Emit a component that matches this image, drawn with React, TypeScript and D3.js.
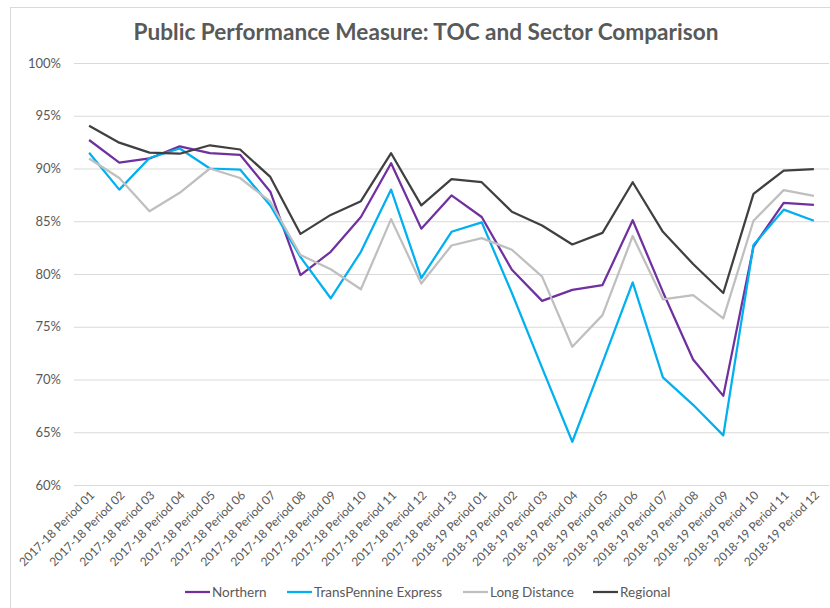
import React, { useEffect, useRef } from 'react';
import * as d3 from 'd3';

const periods = [
  '2017-18 Period 01', '2017-18 Period 02', '2017-18 Period 03', '2017-18 Period 04',
  '2017-18 Period 05', '2017-18 Period 06', '2017-18 Period 07', '2017-18 Period 08',
  '2017-18 Period 09', '2017-18 Period 10', '2017-18 Period 11', '2017-18 Period 12',
  '2017-18 Period 13', '2018-19 Period 01', '2018-19 Period 02', '2018-19 Period 03',
  '2018-19 Period 04', '2018-19 Period 05', '2018-19 Period 06', '2018-19 Period 07',
  '2018-19 Period 08', '2018-19 Period 09', '2018-19 Period 10', '2018-19 Period 11',
  '2018-19 Period 12',
];

const northern = [
  92.7, 90.55, 90.95, 92.1, 91.45, 91.3, 87.8, 79.9, 82.1, 85.4, 90.5, 84.3, 87.45,
  85.4, 80.4, 77.45, 78.5, 78.95, 85.1, 78.3, 71.9, 68.45, 82.6, 86.75, 86.55,
];
const transPennine = [
  91.5, 88.0, 91.0, 91.9, 90.0, 89.9, 86.5, 81.6, 77.7, 82.1, 88.0, 79.6, 84.0,
  84.9, 78.2, 71.1, 64.1, 71.6, 79.2, 70.2, 67.6, 64.7, 82.75, 86.1, 85.05,
];
const longDistance = [
  90.95, 89.1, 85.95, 87.7, 90.0, 89.1, 86.85, 81.8, 80.45, 78.55, 85.2, 79.1, 82.7,
  83.4, 82.3, 79.75, 73.1, 76.1, 83.6, 77.6, 78.0, 75.8, 85.05, 87.95, 87.4,
];
const regional = [
  94.06, 92.45, 91.5, 91.4, 92.2, 91.8, 89.2, 83.8, 85.6, 86.9, 91.45, 86.5, 89.0,
  88.7, 85.9, 84.6, 82.8, 83.9, 88.7, 84.0, 80.95, 78.2, 87.6, 89.8, 89.95,
];

const seriesNames = ['Northern', 'TransPennine Express', 'Long Distance', 'Regional'];
const seriesColors = ['#7030A0', '#00B0F0', '#BFBFBF', '#404040'];
const yTicks = [60, 65, 70, 75, 80, 85, 90, 95, 100];

export default function App() {
  const ref = useRef<SVGSVGElement | null>(null);

  useEffect(() => {
    const width = 830, height = 608;
    const margin = { top: 63, right: 1, bottom: 123, left: 74 };
    const svg = d3.select(ref.current);
    svg.selectAll('*').remove();

    svg.append('rect')
      .attr('x', 10.5).attr('y', 7.5)
      .attr('width', 830).attr('height', 620)
      .attr('fill', '#fff').attr('stroke', '#D9D9D9');

    svg.append('text')
      .attr('x', 426).attr('y', 40)
      .attr('text-anchor', 'middle')
      .attr('font-family', 'Lato, sans-serif')
      .attr('font-weight', 'bold')
      .attr('font-size', 22.6)
      .attr('fill', '#595959')
      .text('Public Performance Measure: TOC and Sector Comparison');

    const x = d3.scaleBand<string>()
      .domain(periods)
      .range([margin.left, width - margin.right]);
    const y = d3.scaleLinear()
      .domain([60, 100])
      .range([height - margin.bottom, margin.top]);

    // gridlines
    svg.append('g')
      .selectAll('line')
      .data(yTicks)
      .join('line')
      .attr('x1', margin.left).attr('x2', width - margin.right)
      .attr('y1', d => y(d) + 0.5).attr('y2', d => y(d) + 0.5)
      .attr('stroke', '#D9D9D9').attr('stroke-width', 1);

    svg.append('g')
      .selectAll('text')
      .data(yTicks)
      .join('text')
      .attr('x', 61).attr('y', d => y(d) + 4.5)
      .attr('text-anchor', 'end')
      .attr('font-family', 'Lato, sans-serif')
      .attr('font-size', 13)
      .attr('fill', '#595959')
      .text(d => `${d}%`);

    // x labels
    svg.append('g')
      .selectAll('text')
      .data(periods)
      .join('text')
      .attr('transform', d => `translate(${(x(d) ?? 0) + x.bandwidth() / 2 + 6},${y(60) + 11}) rotate(-45)`)
      .attr('text-anchor', 'end')
      .attr('font-family', 'Lato, sans-serif')
      .attr('font-size', 12)
      .attr('fill', '#595959')
      .text(d => d);

    const allSeries = [northern, transPennine, longDistance, regional];
    const line = d3.line<number>()
      .x((d, i) => (x(periods[i]) ?? 0) + x.bandwidth() / 2)
      .y(d => y(d));

    allSeries.forEach((s, i) => {
      svg.append('path')
        .datum(s)
        .attr('fill', 'none')
        .attr('stroke', seriesColors[i])
        .attr('stroke-width', 2.25)
        .attr('stroke-linejoin', 'round')
        .attr('d', line);
    });

    // legend
    const legendX = [185, 287, 463, 593];
    const legend = svg.append('g')
      .selectAll('g')
      .data(seriesNames)
      .join('g')
      .attr('transform', (d, i) => `translate(${legendX[i]},592)`);
    legend.append('line')
      .attr('x1', 0).attr('x2', 25)
      .attr('stroke', (d, i) => seriesColors[i])
      .attr('stroke-width', 2.25);
    legend.append('text')
      .attr('x', 27).attr('y', 4.5)
      .attr('font-family', 'Lato, sans-serif')
      .attr('font-size', 13.5)
      .attr('fill', '#595959')
      .text(d => d);
  }, []);

  return (
    <svg ref={ref} width={830} height={608}
      style={{ position: 'absolute', left: 0, top: 0, background: '#fff' }} />
  );
}
